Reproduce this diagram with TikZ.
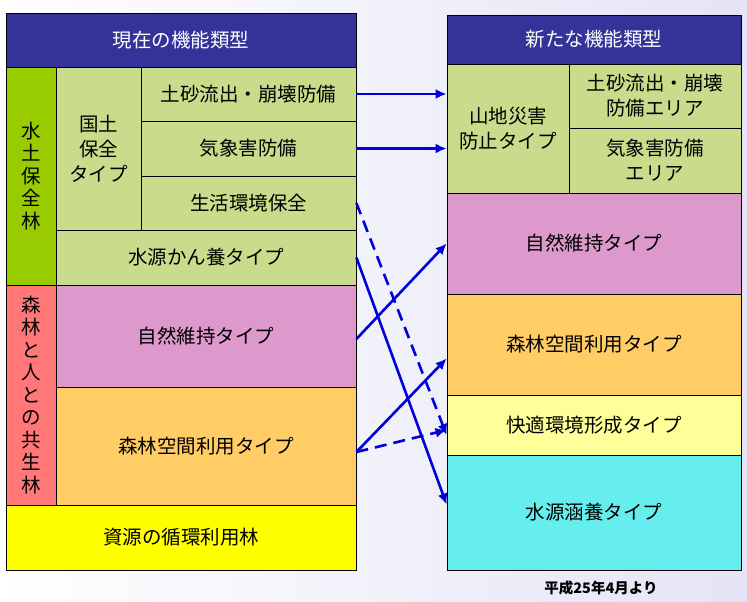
\documentclass[tikz,border=0pt]{standalone}
\usepackage{fontspec}
\setmainfont{Noto Sans CJK JP}
\usetikzlibrary{arrows.meta}
\definecolor{navy}{HTML}{333399}
\definecolor{leafgreen}{HTML}{99CC00}
\definecolor{palegreen}{HTML}{C8DC8C}
\definecolor{orchid}{HTML}{DD99CC}
\definecolor{apricot}{HTML}{FFCC66}
\definecolor{lemon}{HTML}{FFFF00}
\definecolor{cream}{HTML}{FFFF99}
\definecolor{aqua}{HTML}{66EEEE}
\definecolor{salmon}{HTML}{FF7777}
\definecolor{lavender}{HTML}{E4E4F6}
\begin{document}
\begin{tikzpicture}[
  x=1pt, y=-1pt,
  cell/.style={draw=black, line width=0.8pt, inner sep=0pt, align=center, font=\fontsize{19.5}{25}\selectfont},
  vcell/.style={cell, font=\fontsize{19.5}{22.5}\selectfont},
  head/.style={cell, fill=navy, text=white},
  link/.style={draw=blue!85!black, line width=2.6pt, -{Latex[length=11pt,width=10pt]}},
]
\useasboundingbox (0,0) rectangle (747,602);
\shade[left color=white, right color=lavender] (0,0) rectangle (747,602);
% left block
\node (lhead) [head, minimum width=350, minimum height=54] at (181,40) {現在の機能類型};
\node (suido) [vcell, fill=leafgreen, minimum width=50, minimum height=218] at (31,176) {水\\土\\保\\全\\林};
\node (kokudo) [cell, fill=palegreen, minimum width=85, minimum height=163] at (98.5,148.5) {国土\\保全\\タイプ};
\node (dosha) [cell, fill=palegreen, minimum width=215, minimum height=54] at (248.5,94) {土砂流出・崩壊防備};
\node (kisho) [cell, fill=palegreen, minimum width=215, minimum height=55] at (248.5,148.5) {気象害防備};
\node (seikatsu) [cell, fill=palegreen, minimum width=215, minimum height=54] at (248.5,203) {生活環境保全};
\node (suigen) [cell, fill=palegreen, minimum width=300, minimum height=55] at (206,257.5) {水源かん養タイプ};
\node (kyosei) [vcell, fill=salmon, minimum width=50, minimum height=220] at (31,395) {森\\林\\と\\人\\と\\の\\共\\生\\林};
\node (shizen) [cell, fill=orchid, minimum width=300, minimum height=102] at (206,336) {自然維持タイプ};
\node (kukan) [cell, fill=apricot, minimum width=300, minimum height=118] at (206,446) {森林空間利用タイプ};
\node (shigen) [cell, fill=lemon, minimum width=350, minimum height=65] at (181,537.5) {資源の循環利用林};
% right block
\node (rhead) [head, minimum width=294, minimum height=49] at (594,39.5) {新たな機能類型};
\node (sanchi) [cell, fill=palegreen, minimum width=122, minimum height=129] at (508,128.5) {山地災害\\防止タイプ};
\node (ndosha) [cell, fill=palegreen, minimum width=172, minimum height=64] at (655,96) {土砂流出・崩壊\\防備エリア};
\node (nkisho) [cell, fill=palegreen, minimum width=172, minimum height=65] at (655,160.5) {気象害防備\\エリア};
\node (nshizen) [cell, fill=orchid, minimum width=294, minimum height=101] at (594,243.5) {自然維持タイプ};
\node (nkukan) [cell, fill=apricot, minimum width=294, minimum height=101] at (594,344.5) {森林空間利用タイプ};
\node (kaiteki) [cell, fill=cream, minimum width=294, minimum height=60] at (594,425) {快適環境形成タイプ};
\node (kanyo) [cell, fill=aqua, minimum width=294, minimum height=115] at (594,512.5) {水源涵養タイプ};
\node (since) [font=\bfseries\fontsize{14.5}{16}\selectfont, inner sep=0pt] at (601,588) {平成25年4月より};
% connectors
\draw[link] (dosha.east) -- (sanchi.west |- dosha.east);
\draw[link] (kisho.east) -- (sanchi.west |- kisho.east);
\draw[link, dashed, dash pattern=on 12pt off 7pt] (seikatsu.east) -- ([yshift=-10]kaiteki.west);
\draw[link] (suigen.east) -- ([yshift=8]kanyo.west);
\draw[link] ([yshift=-3]shizen.east) -- (nshizen.west);
\draw[link] ([yshift=-6]kukan.east) -- ([yshift=-14]nkukan.west);
\draw[link, dashed, dash pattern=on 12pt off 7pt] ([yshift=-6]kukan.east) -- ([yshift=-5]kaiteki.west);
\end{tikzpicture}
\end{document}
